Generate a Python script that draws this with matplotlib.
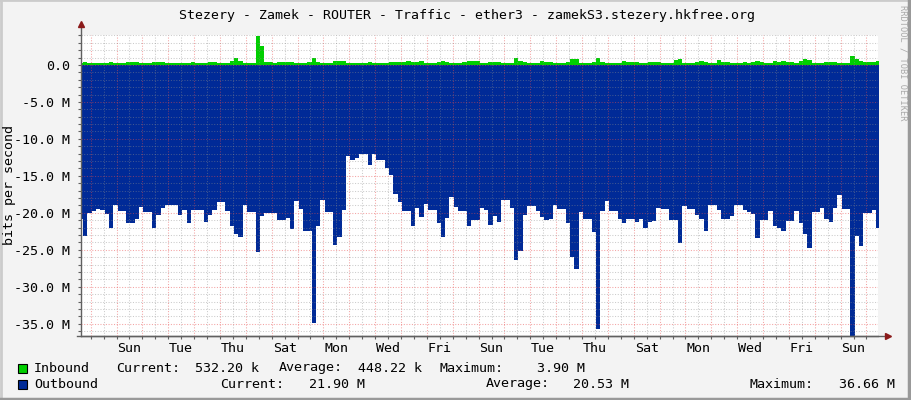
import numpy as np
import matplotlib
matplotlib.use('Agg')
import matplotlib.pyplot as plt
from matplotlib.lines import Line2D
from matplotlib.patches import Rectangle
from matplotlib.ticker import MultipleLocator, FuncFormatter

# traffic in Mbit/s, one value per 4 hour step
inbound = [
    0.25, 0.4, 0.25, 0.25, 0.25, 0.25, 0.25, 0.4, 0.25, 0.25,
    0.25, 0.4, 0.4, 0.4, 0.25, 0.25, 0.25, 0.4, 0.4, 0.4,
    0.25, 0.25, 0.25, 0.25, 0.25, 0.25, 0.4, 0.25, 0.25, 0.25,
    0.4, 0.4, 0.25, 0.25, 0.25, 0.5, 0.95, 0.5, 0.3, 0.25,
    0.25, 3.9, 2.5, 0.35, 0.35, 0.25, 0.4, 0.4, 0.4, 0.4,
    0.25, 0.25, 0.25, 0.4, 0.95, 0.35, 0.25, 0.25, 0.25, 0.55,
    0.55, 0.5, 0.2, 0.2, 0.2, 0.3, 0.3, 0.4, 0.2, 0.2,
    0.2, 0.3, 0.4, 0.4, 0.4, 0.4, 0.55, 0.4, 0.4, 0.55,
    0.3, 0.3, 0.3, 0.4, 0.6, 0.4, 0.3, 0.3, 0.3, 0.4,
    0.5, 0.5, 0.5, 0.3, 0.25, 0.4, 0.4, 0.4, 0.25, 0.25,
    0.25, 0.95, 0.55, 0.4, 0.25, 0.25, 0.25, 0.55, 0.4, 0.4,
    0.25, 0.25, 0.25, 0.4, 0.8, 0.8, 0.25, 0.25, 0.25, 0.4,
    0.95, 0.4, 0.25, 0.25, 0.25, 0.25, 0.55, 0.4, 0.4, 0.4,
    0.3, 0.3, 0.35, 0.35, 0.4, 0.3, 0.3, 0.3, 0.7, 0.85,
    0.25, 0.25, 0.25, 0.4, 0.55, 0.4, 0.25, 0.25, 0.7, 0.4,
    0.4, 0.3, 0.3, 0.3, 0.4, 0.3, 0.4, 0.55, 0.4, 0.3,
    0.3, 0.55, 0.4, 0.55, 0.4, 0.4, 0.3, 0.6, 0.8, 0.7,
    0.3, 0.3, 0.3, 0.4, 0.4, 0.4, 0.3, 0.3, 0.3, 1.2,
    0.75, 0.6, 0.4, 0.35, 0.35, 0.55,
]
outbound = [
    20.8, 23.2, 20.0, 19.7, 19.5, 19.6, 20.2, 22.1, 18.9, 19.7,
    19.7, 21.4, 21.4, 20.9, 19.2, 19.95, 19.95, 22.0, 20.3, 19.3,
    18.9, 18.9, 18.9, 20.3, 19.6, 21.4, 19.6, 19.6, 19.6, 21.3,
    20.3, 19.6, 18.6, 18.6, 19.8, 21.8, 22.9, 23.3, 18.9, 19.95,
    19.95, 25.3, 20.4, 20.0, 20.0, 20.0, 21.0, 21.0, 20.7, 22.2,
    18.4, 19.5, 22.4, 22.4, 34.9, 21.8, 18.2, 19.95, 19.95, 24.4,
    23.3, 19.6, 12.3, 12.8, 12.6, 12.0, 12.0, 13.5, 12.0, 12.9,
    12.9, 14.0, 14.9, 17.5, 18.5, 19.7, 19.7, 21.8, 19.3, 20.5,
    18.8, 19.6, 19.6, 21.4, 23.3, 20.7, 17.8, 19.2, 19.7, 19.7,
    21.8, 21.0, 21.0, 19.4, 19.6, 21.6, 20.4, 21.2, 18.3, 18.3,
    19.3, 26.4, 25.1, 20.3, 19.05, 19.05, 19.8, 20.6, 21.0, 20.9,
    18.9, 19.5, 19.5, 21.4, 26.0, 27.6, 19.9, 20.9, 20.9, 22.6,
    35.7, 19.7, 18.4, 19.7, 19.7, 20.8, 21.4, 20.8, 20.8, 21.3,
    20.8, 22.0, 21.3, 21.1, 19.4, 19.5, 19.5, 21.0, 21.0, 24.1,
    19.05, 19.5, 19.5, 20.3, 20.9, 22.5, 18.9, 18.9, 19.6, 20.9,
    20.8, 20.4, 18.9, 18.9, 19.6, 19.95, 20.2, 23.4, 21.0, 21.0,
    19.8, 21.8, 22.1, 22.4, 21.1, 21.1, 19.8, 21.4, 22.9, 24.7,
    19.9, 19.9, 19.4, 20.8, 21.2, 19.4, 17.6, 19.5, 19.5, 36.6,
    23.1, 24.5, 20.0, 20.0, 19.6, 22.0,
]
day_labels = ['Sun', 'Tue', 'Thu', 'Sat', 'Mon', 'Wed', 'Fri', 'Sun',
              'Tue', 'Thu', 'Sat', 'Mon', 'Wed', 'Fri', 'Sun']

title = 'Stezery - Zamek - ROUTER - Traffic - ether3 - zamekS3.stezery.hkfree.org'

W, H = 911, 400
MONO = 'DejaVu Sans Mono'
GREEN = '#00CF00'
BLUE = '#002A97'

# hours relative to first midnight
step_h = 4
t_first = -11
t_start, t_end = -9.0, 730.7

fig = plt.figure(figsize=(W / 100, H / 100), dpi=100, facecolor='#F3F3F3')
ax = fig.add_axes([81 / W, 64 / H, 797 / W, 301 / H])
ax.set_facecolor('white')


def px(x, y):
    return x / W, 1 - y / H


edges = t_first + step_h * np.arange(len(outbound) + 1)
out_y = -np.append(outbound, outbound[-1])
in_y = np.append(inbound, inbound[-1])
ax.fill_between(edges, 0, out_y, step='post', color=BLUE, lw=0, zorder=1)
ax.fill_between(edges, 0, in_y, step='post', color=GREEN, lw=0, zorder=1)

ax.set_xlim(t_start, t_end)
ax.set_ylim(-36.66, 4.05)

ax.xaxis.set_major_locator(MultipleLocator(24))
ax.xaxis.set_minor_locator(MultipleLocator(12))
ax.yaxis.set_major_locator(MultipleLocator(5))
ax.yaxis.set_minor_locator(MultipleLocator(1))
ax.yaxis.set_major_formatter(FuncFormatter(lambda v, p: '0.0' if abs(v) < 1e-9 else f'{v:.1f} M'))
ax.set_xticklabels([])

ax.set_axisbelow(False)
ax.grid(which='minor', color='#8c8c8c', alpha=0.45, linestyle=(0, (1, 1.6)), lw=0.75)
ax.grid(which='major', color='#e84a4a', alpha=0.5, linestyle=(0, (1, 1.6)), lw=0.75)

ax.tick_params(axis='both', which='both', length=2, width=0.8, color='#606060')
ax.tick_params(axis='y', which='major', pad=6, labelsize=9.6, labelcolor='black')
for lbl in ax.get_yticklabels():
    lbl.set_family(MONO)

for s in ['top', 'right']:
    ax.spines[s].set_visible(False)
for s in ['left', 'bottom']:
    ax.spines[s].set_color('#606060')
    ax.spines[s].set_linewidth(1.0)

# axis extensions with arrows
ax.plot([0, 0], [1, 1.03], transform=ax.transAxes, color='#606060', lw=1, clip_on=False)
ax.plot([-0.005, 1.012], [0, 0], transform=ax.transAxes, color='#606060', lw=1, clip_on=False)
ax.plot([0], [1.035], marker='^', ms=5, color='#8b1a1a', transform=ax.transAxes, clip_on=False)
ax.plot([1.012], [0], marker='>', ms=5, color='#8b1a1a', transform=ax.transAxes, clip_on=False)

# day names at noon, every second day
for i, name in enumerate(day_labels):
    ax.text(36 + 48 * i, -0.04, name, transform=ax.get_xaxis_transform(),
            ha='center', va='center', family=MONO, fontsize=9.6)

fig.text(*px(467, 15), title, ha='center', va='center', family=MONO, fontsize=9.5)
fig.text(*px(10, 185), 'bits per second', rotation=90, ha='center', va='center',
         family=MONO, fontsize=9.6)
fig.text(*px(903, 5), 'RRDTOOL / TOBI OETIKER', rotation=270, ha='center', va='top',
         family=MONO, fontsize=6.2, color='#a8a8a8')

# legend
for y, col in [(368, GREEN), (384, BLUE)]:
    fig.patches.append(Rectangle(px(18, y + 5), 9 / W, 9 / H, transform=fig.transFigure,
                                 facecolor=col, edgecolor='black', lw=0.8))

row1 = [(34, 'Inbound', 'left'), (116, 'Current:', 'left'), (259, '532.20 k', 'right'),
        (279, 'Average:', 'left'), (422, '448.22 k', 'right'), (440, 'Maximum:', 'left'),
        (585, '3.90 M', 'right')]
row2 = [(34, 'Outbound', 'left'), (220, 'Current:', 'left'), (365, '21.90 M', 'right'),
        (486, 'Average:', 'left'), (629, '20.53 M', 'right'), (750, 'Maximum:', 'left'),
        (895, '36.66 M', 'right')]
for y, row in [(368, row1), (384, row2)]:
    for x, s, ha in row:
        fig.text(*px(x, y), s, ha=ha, va='center', family=MONO, fontsize=9.6)

# 3d frame
fig.add_artist(Line2D([0, 1], [0.999, 0.999], transform=fig.transFigure, color='#CBCBCB', lw=2))
fig.add_artist(Line2D([0.001, 0.001], [0, 1], transform=fig.transFigure, color='#CBCBCB', lw=2))
fig.add_artist(Line2D([0, 1], [0.002, 0.002], transform=fig.transFigure, color='#999999', lw=2.5))
fig.add_artist(Line2D([0.998, 0.998], [0, 1], transform=fig.transFigure, color='#999999', lw=2.5))

fig.savefig('out.png', dpi=100, facecolor=fig.get_facecolor())
